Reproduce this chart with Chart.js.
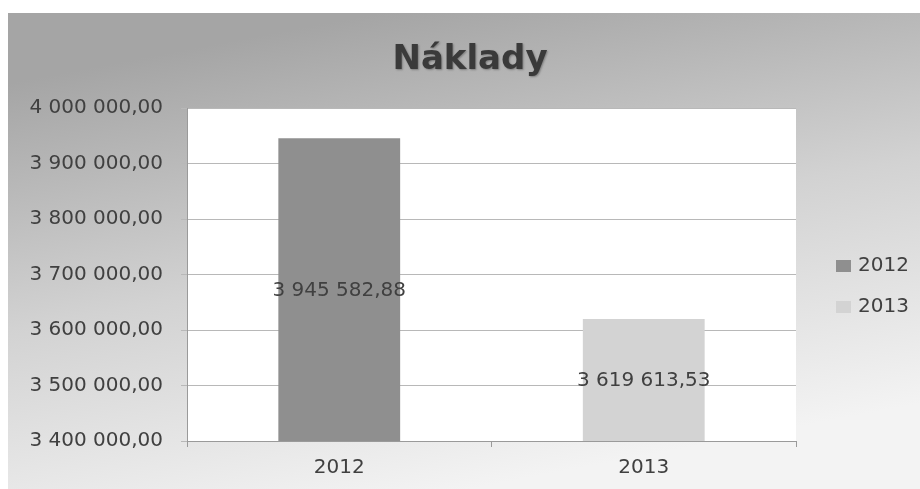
<!DOCTYPE html>
<html>
<head>
<meta charset="utf-8">
<style>
html,body{margin:0;padding:0;background:#ffffff;}
canvas{display:block;}
</style>
<script src="https://cdn.jsdelivr.net/npm/chart.js@4.4.1/dist/chart.umd.min.js"></script>
</head>
<body>
<canvas id="c" width="920" height="489"></canvas>
<script>
const chartTitle = "Náklady";
const categories = ["2012", "2013"];
const values = [3945582.88, 3619613.53];
const barColors = ["#8f8f8f", "#d3d3d3"];
const yMin = 3400000;
const yMax = 4000000;
const yStep = 100000;

const FONT = "'DejaVu Sans', sans-serif";
const TEXT = "#404040";

function fmt(v) {
  const s = Math.abs(v).toFixed(2).split(".");
  const intPart = s[0].replace(/\B(?=(\d{3})+(?!\d))/g, " ");
  return (v < 0 ? "-" : "") + intPart + "," + s[1];
}

const decor = {
  id: "decor",
  beforeDraw(chart) {
    const ctx = chart.ctx;
    const a = chart.chartArea;
    ctx.save();
    const g = ctx.createLinearGradient(380, 13, 470, 489);
    g.addColorStop(0, "#a5a5a5");
    g.addColorStop(0.5, "#d2d2d2");
    g.addColorStop(1, "#f3f3f3");
    ctx.fillStyle = g;
    ctx.fillRect(8, 13, 912, 476);
    ctx.fillStyle = "#ffffff";
    ctx.fillRect(a.left, a.top, a.right - a.left, a.bottom - a.top);
    ctx.restore();
  },
  afterDatasetsDraw(chart) {
    const ctx = chart.ctx;
    const yScale = chart.scales.y;
    const xScale = chart.scales.x;
    ctx.save();
    ctx.font = "20px " + FONT;
    ctx.textAlign = "center";
    ctx.textBaseline = "middle";
    ctx.fillStyle = TEXT;
    values.forEach((v, i) => {
      const x = xScale.getPixelForValue(i);
      const top = yScale.getPixelForValue(v);
      const base = yScale.bottom;
      ctx.fillText(fmt(v), x, (top + base) / 2 + 1);
    });
    ctx.restore();
  },
  afterDraw(chart) {
    const ctx = chart.ctx;
    ctx.save();
    ctx.font = "bold 34px " + FONT;
    ctx.textAlign = "center";
    ctx.textBaseline = "alphabetic";
    ctx.shadowColor = "rgba(0,0,0,0.3)";
    ctx.shadowBlur = 2;
    ctx.shadowOffsetX = 1;
    ctx.shadowOffsetY = 1;
    ctx.fillStyle = "#3a3a3a";
    ctx.fillText(chartTitle, 470, 69);
    ctx.shadowColor = "transparent";
    ctx.font = "20px " + FONT;
    ctx.textAlign = "left";
    ctx.textBaseline = "middle";
    const ly = [266, 307];
    categories.forEach((c, i) => {
      ctx.fillStyle = barColors[i];
      ctx.fillRect(836, ly[i] - 6, 15, 12);
      ctx.fillStyle = TEXT;
      ctx.fillText(c, 858, ly[i]);
    });
    ctx.restore();
  }
};

new Chart(document.getElementById("c"), {
  type: "bar",
  data: {
    labels: categories,
    datasets: [{
      label: chartTitle,
      data: values,
      backgroundColor: barColors,
      borderWidth: 0,
      categoryPercentage: 1.0,
      barPercentage: 0.4
    }]
  },
  options: {
    responsive: false,
    animation: false,
    devicePixelRatio: 1,
    layout: { padding: { left: 0, top: 108, right: 124, bottom: 0 } },
    plugins: {
      legend: { display: false },
      title: { display: false },
      tooltip: { enabled: false }
    },
    scales: {
      x: {
        type: "category",
        afterFit(s) { s.height = 48; },
        grid: { offset: true, drawOnChartArea: false, drawTicks: true, tickLength: 6, color: "#9a9a9a" },
        border: { display: true, color: "#9a9a9a" },
        ticks: { color: TEXT, font: { family: FONT, size: 20 }, padding: 9 }
      },
      y: {
        min: yMin,
        max: yMax,
        afterFit(s) { s.width = 187; },
        grid: { color: "#b8b8b8", tickLength: 6, lineWidth: 1 },
        border: { display: true, color: "#9a9a9a" },
        ticks: {
          stepSize: yStep,
          color: TEXT,
          padding: 18,
          font: { family: FONT, size: 20 },
          callback: (v) => fmt(v)
        }
      }
    }
  },
  plugins: [decor]
});
</script>
</body>
</html>
